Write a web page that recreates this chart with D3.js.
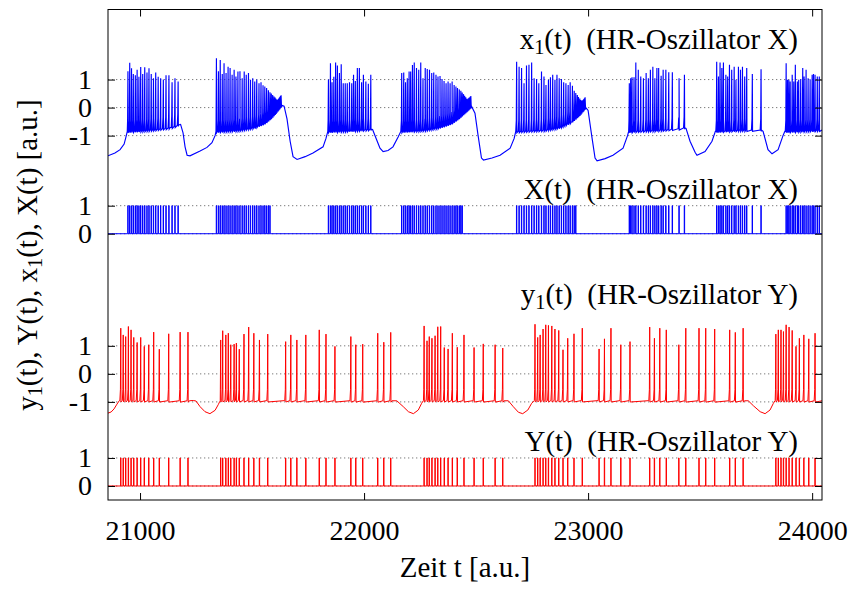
<!DOCTYPE html>
<html>
<head>
<meta charset="utf-8">
<script src="https://cdnjs.cloudflare.com/ajax/libs/d3/7.8.5/d3.min.js"></script>
<style>
  body { margin: 0; background: #fff; }
  svg text { font-family: "Liberation Serif", "Times New Roman", serif; fill: #000; }
</style>
</head>
<body>
<svg id="chart" width="849" height="590"></svg>
<script>
// Time window and axis ticks
const timeDomain = [20857, 24044];
const timeTicks = [21000, 22000, 23000, 24000];
const x1Ticks = [-1, 0, 1];
const XTicks = [0, 1];
const y1Ticks = [-1, 0, 1];
const YTicks = [0, 1];

// HR oscillator X: spike times and spike peak values of x1(t)
const x1SpikeTimes = [
  20946, 20954, 20962, 20970, 20979, 20987, 20995, 21003, 21012, 21021, 21031, 21040, 21050, 21060, 21070, 21081, 21092, 21104, 21116, 21129, 21143, 21156, 21170,
  21341, 21350, 21358, 21367, 21375, 21384, 21393, 21402, 21411, 21420, 21428, 21437, 21446, 21456, 21465, 21474, 21484, 21493, 21503, 21512, 21521, 21531, 21540, 21549, 21557, 21565, 21573, 21580, 21586, 21592, 21598, 21603, 21607, 21611, 21616, 21620, 21624, 21628, 21631,
  21841, 21850, 21857, 21865, 21873, 21881, 21890, 21898, 21907, 21916, 21925, 21935, 21945, 21953, 21961, 21970, 21979, 21989, 21997, 22008, 22019, 22030,
  22168, 22177, 22185, 22193, 22201, 22208, 22216, 22224, 22234, 22244, 22253, 22263, 22273, 22282, 22292, 22302, 22311, 22321, 22330, 22339, 22348, 22357, 22366, 22375, 22384, 22393, 22402, 22410, 22417, 22425, 22432, 22438, 22444, 22449, 22454, 22459, 22463, 22467, 22471, 22475, 22478,
  22681, 22692, 22703, 22714, 22725, 22736, 22748, 22759, 22770, 22780, 22792, 22803, 22812, 22823, 22832, 22842, 22852, 22861, 22871, 22881, 22891, 22901, 22911, 22920, 22930, 22938, 22945, 22952, 22957, 22963, 22968, 22972, 22977, 22981, 22985, 22988,
  23184, 23190, 23196, 23205, 23213, 23224, 23235, 23247, 23259, 23269, 23278, 23289, 23298, 23307, 23315, 23326, 23335, 23347, 23360, 23376, 23406, 23430,
  23574, 23582, 23589, 23597, 23604, 23615, 23623, 23631, 23641, 23652, 23660, 23671, 23680, 23689, 23699, 23708, 23733, 23772,
  23884, 23890, 23896, 23902, 23911, 23918, 23925, 23934, 23940, 23949, 23958, 23964, 23973, 23982, 23991, 24000, 24006, 24013, 24023, 24032
];
const x1SpikePeaks = [
  1.3, 1.6, 1.4, 1.2, 1.15, 1.35, 1.1, 1.45, 1.2, 1.44, 1.25, 1.4, 1.2, 1.05, 1.25, 1.1, 1.05, 1.0, 1.15, 1.15, 0.9, 1.05, 0.93,
  1.76, 1.3, 1.7, 1.2, 1.58, 1.23, 1.46, 1.41, 1.17, 1.35, 1.11, 1.29, 1.3, 1.05, 1.29, 1.17, 1.23, 0.99, 1.05, 0.93, 1.0, 0.87, 0.9, 0.8, 0.75, 0.7, 0.62, 0.55, 0.5, 0.45, 0.4, 0.36, 0.32, 0.28, 0.24, 0.21, 0.18, 0.15, 0.12,
  1.0, 1.58, 0.9, 1.1, 1.61, 1.5, 1.23, 1.55, 0.87, 0.87, 0.87, 0.9, 0.87, 1.17, 0.95, 1.41, 1.41, 0.9, 1.17, 0.93, 0.85, 1.17,
  1.23, 1.25, 0.9, 1.05, 1.29, 1.29, 1.52, 1.61, 1.41, 1.35, 1.61, 1.05, 1.41, 1.38, 1.35, 1.23, 1.25, 1.17, 1.11, 1.13, 1.02, 0.95, 0.87, 0.93, 0.87, 0.93, 0.81, 0.75, 0.7, 0.65, 0.6, 0.54, 0.48, 0.42, 0.37, 0.32, 0.27, 0.23, 0.18, 0.14, 0.1,
  1.64, 1.46, 1.41, 0.87, 1.5, 1.53, 1.61, 1.05, 1.02, 0.87, 1.29, 1.11, 0.81, 0.99, 1.08, 1.17, 0.99, 1.17, 1.05, 1.02, 0.9, 0.87, 0.81, 0.9, 0.78, 0.6, 0.52, 0.45, 0.38, 0.32, 0.27, 0.22, 0.18, 0.14, 0.11, 0.08,
  0.87, 1.05, 1.08, 1.08, 1.61, 1.35, 1.11, 1.05, 1.23, 1.05, 1.35, 1.46, 1.05, 1.41, 1.41, 1.14, 1.35, 1.35, 1.26, 1.26, 1.05, 1.17,
  1.64, 1.11, 1.61, 1.41, 1.61, 1.17, 1.11, 1.53, 1.35, 1.46, 0.99, 1.46, 1.35, 1.46, 1.11, 1.41, 1.2, 1.37,
  1.58, 0.99, 0.99, 0.93, 1.17, 0.93, 1.53, 0.93, 0.99, 1.01, 1.41, 1.11, 1.35, 1.05, 1.01, 1.17, 1.2, 1.17, 1.11, 1.11
];
// Slow trajectory of x1(t): spike troughs inside bursts and the quiet phases between them
const x1Baseline = [
  [20857, -1.72], [20888, -1.62], [20911, -1.5], [20929, -1.3], [20937, -1.05], [20943, -0.85],
  [21045, -0.8], [21134, -0.72], [21172, -0.62], [21181, -0.6], [21192, -0.9], [21201, -1.4], [21210, -1.7], [21223, -1.72], [21268, -1.55], [21299, -1.42], [21321, -1.25], [21335, -1.0], [21339, -0.85],
  [21446, -0.8], [21513, -0.7], [21558, -0.55], [21589, -0.35], [21616, -0.1], [21633, 0.08], [21643, 0.05], [21656, -0.4], [21670, -1.2], [21683, -1.75], [21701, -1.85], [21737, -1.75], [21772, -1.62], [21817, -1.4], [21830, -1.1], [21838, -0.85],
  [21937, -0.82], [22032, -0.77], [22038, -0.78], [22056, -1.15], [22071, -1.45], [22085, -1.57], [22107, -1.53], [22129, -1.4], [22152, -1.05], [22164, -0.85],
  [22272, -0.8], [22339, -0.7], [22393, -0.55], [22428, -0.35], [22455, -0.15], [22480, 0.04], [22495, -0.2], [22509, -1.0], [22524, -1.8], [22533, -1.87], [22571, -1.8], [22607, -1.7], [22652, -1.45], [22670, -1.1], [22677, -0.85],
  [22808, -0.8], [22875, -0.7], [22928, -0.5], [22964, -0.25], [22990, 0.0], [23000, -0.1], [23016, -1.0], [23031, -1.8], [23040, -1.9], [23076, -1.82], [23111, -1.7], [23156, -1.45], [23176, -1.0], [23181, -0.85],
  [23321, -0.8], [23406, -0.75], [23432, -0.72], [23437, -0.74], [23455, -1.2], [23478, -1.6], [23486, -1.7], [23522, -1.57], [23553, -1.2], [23568, -0.85],
  [23678, -0.8], [23774, -0.8], [23781, -0.85], [23803, -1.5], [23821, -1.65], [23848, -1.5], [23870, -1.0], [23878, -0.85],
  [24044, -0.8]
];

// HR oscillator Y: spike times and spike peak values of y1(t)
const y1SpikeTimes = [
  20914, 20925, 20936, 20948, 20960, 20972, 20987, 21003, 21019, 21039, 21061, 21086, 21128, 21179, 21214,
  21360, 21369, 21383, 21394, 21405, 21420, 21430, 21443, 21464, 21485, 21508, 21533, 21570, 21650, 21673, 21700, 21740, 21800, 21830, 21870, 21941, 21963, 21994, 22061, 22088, 22119,
  22268, 22281, 22291, 22303, 22317, 22329, 22342, 22358, 22375, 22394, 22416, 22446, 22491, 22532, 22585, 22619,
  22763, 22775, 22786, 22799, 22811, 22823, 22838, 22852, 22869, 22888, 22909, 22937, 22974, 23049, 23073, 23102, 23146, 23187, 23275, 23296, 23320, 23349, 23405, 23436, 23495, 23525, 23565, 23632, 23657, 23692,
  23838, 23849, 23861, 23872, 23884, 23897, 23911, 23928, 23943, 23963, 23985, 24013
];
const y1SpikePeaks = [
  1.63, 1.39, 1.33, 1.69, 1.57, 1.30, 1.12, 1.30, 0.98, 1.04, 1.49, 0.88, 1.43, 1.49, 1.49,
  1.21, 1.54, 1.39, 1.45, 1.04, 1.06, 1.10, 0.88, 1.42, 1.67, 1.45, 1.21, 1.42, 1.15, 1.39, 1.21, 1.39, 1.57, 1.42, 0.98, 1.33, 1.04, 1.06, 1.45, 1.13, 1.48,
  1.71, 1.18, 1.33, 1.27, 1.36, 1.68, 1.69, 0.94, 0.89, 1.45, 0.95, 1.39, 0.94, 1.07, 1.04, 0.92,
  1.77, 1.30, 1.39, 1.60, 1.75, 1.73, 1.71, 1.60, 1.55, 0.86, 1.27, 1.43, 1.63, 0.89, 1.25, 1.63, 1.04, 1.15, 1.67, 1.27, 1.63, 1.57, 1.04, 1.63, 1.63, 1.63, 1.60, 1.57, 1.48, 1.63,
  1.42, 1.57, 1.57, 1.51, 1.75, 1.67, 1.55, 0.98, 1.27, 1.39, 1.25, 1.45
];
// Slow trajectory of y1(t): resting level and the hyperpolarised dips
const y1Baseline = [
  [20857, -1.4], [20871, -1.36], [20884, -1.25], [20897, -1.08], [20908, -0.95],
  [21220, -0.96], [21238, -0.95], [21250, -0.97], [21268, -1.17], [21290, -1.35], [21312, -1.42], [21335, -1.3], [21349, -1.1], [21358, -0.95],
  [22125, -0.96], [22146, -0.96], [22175, -1.17], [22198, -1.35], [22220, -1.42], [22242, -1.29], [22257, -1.05], [22265, -0.95],
  [22625, -0.96], [22644, -0.96], [22666, -1.17], [22689, -1.37], [22708, -1.42], [22731, -1.29], [22748, -1.05], [22760, -0.95],
  [23698, -0.96], [23715, -0.96], [23738, -1.14], [23768, -1.35], [23790, -1.42], [23812, -1.29], [23827, -1.05], [23835, -0.95],
  [24044, -0.96]
];

// X(t) / Y(t) are 1 while the membrane variable is above this level
const spikeThreshold = 0.5;

// ---- layout ----
const svg = d3.select("#chart");
const plot = { left: 108, right: 822, top: 9.5, bottom: 500 };
const x = d3.scaleLinear().domain(timeDomain).range([plot.left, plot.right]);
const y = d3.scaleLinear().domain([-0.5, 17]).range([plot.bottom, plot.top]);

// vertical stacking of the four signals on the shared axis
const panels = [
  { key: "x1", offset: 13.5, ticks: x1Ticks },
  { key: "X",  offset: 9,    ticks: XTicks },
  { key: "y1", offset: 4,    ticks: y1Ticks },
  { key: "Y",  offset: 0,    ticks: YTicks }
];
const tickPos = [], tickText = new Map();
panels.forEach(p => p.ticks.forEach(v => { tickPos.push(p.offset + v); tickText.set(p.offset + v, String(v)); }));

svg.append("defs").append("clipPath").attr("id", "plotClip")
  .append("rect").attr("x", plot.left).attr("y", plot.top)
  .attr("width", plot.right - plot.left).attr("height", plot.bottom - plot.top);

// dotted grid lines at every labelled level
svg.append("g").selectAll("line").data(tickPos).join("line")
  .attr("x1", plot.left).attr("x2", plot.right)
  .attr("y1", d => y(d)).attr("y2", d => y(d))
  .attr("stroke", "#7a7a7a").attr("stroke-width", 1).attr("stroke-dasharray", "1.3,2.7");

// ---- traces ----
function baseAt(env, t) {
  const i = d3.bisector(d => d[0]).right(env, t);
  if (i <= 0) return env[0][1];
  if (i >= env.length) return env[env.length - 1][1];
  const a = env[i - 1], b = env[i];
  return a[1] + (b[1] - a[1]) * (t - a[0]) / (b[0] - a[0]);
}
// spike profile (time offset, height above trough) around each peak
const spikeShape = [[-4, 0], [-1.5, 0.4], [0, null], [1, -0.05]];
function membraneTrace(times, peaks, env) {
  const pts = env.map(d => [d[0], d[1]]);
  times.forEach((s, i) => {
    spikeShape.forEach(([dt, dv]) => {
      pts.push(dv === null ? [s, peaks[i]] : [s + dt, baseAt(env, s + dt) + dv]);
    });
  });
  pts.sort((a, b) => a[0] - b[0]);
  return pts;
}
function pulseTrace(times, peaks) {
  const pts = [[timeDomain[0], 0]];
  times.forEach((s, i) => {
    if (peaks[i] > spikeThreshold) pts.push([s - 0.8, 0], [s - 0.8, 1], [s + 0.8, 1], [s + 0.8, 0]);
  });
  pts.push([timeDomain[1], 0]);
  return pts;
}
const lineFor = off => d3.line().x(d => x(d[0])).y(d => y(d[1] + off));

const traces = svg.append("g").attr("clip-path", "url(#plotClip)").attr("fill", "none");
traces.append("path").attr("d", lineFor(13.5)(membraneTrace(x1SpikeTimes, x1SpikePeaks, x1Baseline)))
  .attr("stroke", "#0000ff").attr("stroke-width", 1.15);
traces.append("path").attr("d", lineFor(9)(pulseTrace(x1SpikeTimes, x1SpikePeaks)))
  .attr("stroke", "#0000ff").attr("stroke-width", 1);
traces.append("path").attr("d", lineFor(4)(membraneTrace(y1SpikeTimes, y1SpikePeaks, y1Baseline)))
  .attr("stroke", "#ff0000").attr("stroke-width", 1);
traces.append("path").attr("d", lineFor(0)(pulseTrace(y1SpikeTimes, y1SpikePeaks)))
  .attr("stroke", "#ff0000").attr("stroke-width", 1);

// ---- axes ----
const fs = 28;
function styleAxis(g) {
  g.select(".domain").remove();
  g.selectAll(".tick line").attr("stroke", "#000").attr("stroke-width", 1);
  g.selectAll(".tick text").attr("font-size", fs).attr("font-family", "Liberation Serif, serif").attr("fill", "#000");
}
svg.append("g").attr("transform", `translate(${plot.left},0)`)
  .call(d3.axisLeft(y).tickValues(tickPos).tickFormat(d => tickText.get(d)).tickSize(-7).tickPadding(16))
  .call(styleAxis);
svg.append("g").attr("transform", `translate(${plot.right},0)`)
  .call(d3.axisRight(y).tickValues(tickPos).tickFormat("").tickSize(-7))
  .call(styleAxis);
svg.append("g").attr("transform", `translate(0,${plot.bottom})`)
  .call(d3.axisBottom(x).tickValues(timeTicks).tickFormat(d => String(d)).tickSize(-7).tickPadding(20))
  .call(styleAxis);
svg.append("g").attr("transform", `translate(0,${plot.top})`)
  .call(d3.axisTop(x).tickValues(timeTicks).tickFormat("").tickSize(-7))
  .call(styleAxis);

svg.append("rect").attr("x", plot.left).attr("y", plot.top)
  .attr("width", plot.right - plot.left).attr("height", plot.bottom - plot.top)
  .attr("fill", "none").attr("stroke", "#000").attr("stroke-width", 1);

// ---- labels ----
function richText(sel, parts, size) {
  let prevSub = false;
  parts.forEach(([txt, sub]) => {
    const ts = sel.append("tspan").text(txt);
    if (sub) ts.attr("font-size", size * 0.7).attr("dy", 5);
    else if (prevSub) ts.attr("dy", -5);
    prevSub = !!sub;
  });
}
const legendSize = 29;
const legendLabels = [
  { parts: [["x"], ["1", true], ["(t)  (HR-Oszillator X)"]], base: 48.5 },
  { parts: [["X(t)  (HR-Oszillator X)"]], base: 198.5 },
  { parts: [["y"], ["1", true], ["(t)  (HR-Oszillator Y)"]], base: 304 },
  { parts: [["Y(t)  (HR-Oszillator Y)"]], base: 451 }
];
legendLabels.forEach(l => {
  const t = svg.append("text").attr("x", 798).attr("y", l.base)
    .attr("text-anchor", "end").attr("font-size", legendSize).style("white-space", "pre");
  richText(t, l.parts, legendSize);
});

const yTitle = svg.append("text").attr("transform", "translate(37,255) rotate(-90)")
  .attr("text-anchor", "middle").attr("font-size", 29);
richText(yTitle, [["y"], ["1", true], ["(t), Y(t), x"], ["1", true], ["(t), X(t) [a.u.]"]], 29);

svg.append("text").attr("x", (plot.left + plot.right) / 2).attr("y", 577)
  .attr("text-anchor", "middle").attr("font-size", 29).text("Zeit t [a.u.]");
</script>
</body>
</html>
